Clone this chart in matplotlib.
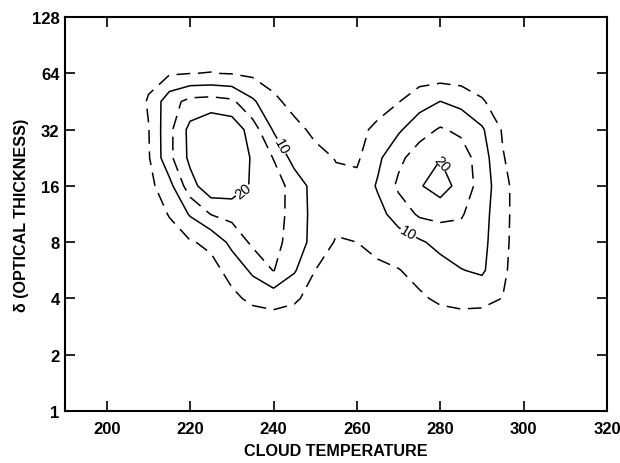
import numpy as np
import matplotlib
matplotlib.use("Agg")
from matplotlib import pyplot as plt

plt.rcParams['font.family'] = ['Liberation Sans', 'DejaVu Sans']

# grid of the frequency field: cloud temperature (K) x log2(optical thickness)
temps = [195, 200, 205, 210, 215, 220, 225, 230, 235, 240, 245, 250,
         255, 260, 265, 270, 275, 280, 285, 290, 295, 300, 305, 310]
log2_tau = [1.0, 1.5, 2.0, 2.5, 3.0, 3.5, 4.0, 4.5, 5.0, 5.5, 6.0, 6.5, 7.0]

row_10 = [0, 0, 0, 0.1, 0.2, 0.3, 0.4, 0.5, 0.6, 0.6, 0.5, 0.4, 0.3, 0.3, 0.4, 0.5, 0.6, 0.7, 0.7, 0.6, 0.5, 0.2, 0, 0]
row_15 = [0, 0, 0, 0.3, 0.5, 0.8, 1.2, 1.6, 2, 2, 1.8, 1.2, 1, 1, 1.2, 1.5, 2, 2.4, 2.5, 2.4, 1.8, 0.5, 0, 0]
row_20 = [0, 0, 0.3, 0.5, 1, 1.5, 2.5, 4, 6, 7, 5.8, 3, 2, 2, 2.5, 3, 4.3, 5.8, 6.5, 6.3, 4.9, 1, 0.2, 0]
row_25 = [0, 0, 0.5, 1, 1.5, 2.5, 3.5, 6.5, 11, 15.2, 10.5, 5, 3.5, 3.5, 4, 4.8, 6.5, 8, 9.8, 10.8, 6, 1.5, 0.2, 0]
row_30 = [0, 0.1, 0.5, 1.5, 2.8, 4.6, 6, 11.5, 16, 16.5, 13, 8, 4.6, 5, 6.5, 7.8, 9.3, 11.5, 12.8, 11.5, 6.3, 2, 0.3, 0]
row_35 = [0, 0.1, 0.5, 2, 5.3, 10.5, 15.2, 16.5, 17, 16.8, 13.5, 8, 6.5, 6.5, 8.5, 12, 15.8, 16.5, 15.5, 12, 6.5, 2, 0.3, 0]
row_40 = [0, 0.2, 1, 3.5, 8.3, 18, 23.5, 23, 19.3, 17.5, 13, 8, 6, 6.5, 10.5, 16, 19.5, 22.5, 18, 13, 6.5, 2, 0.3, 0]
row_45 = [0, 0.2, 1, 4.5, 13.7, 21.2, 25.5, 24.5, 19.3, 14.8, 8, 6.3, 4.8, 4.2, 9, 13.8, 17.5, 19.8, 17.5, 12.5, 5.3, 2, 0.3, 0]
row_50 = [0, 0.2, 1, 4.8, 13.7, 21.5, 24.5, 23.5, 17.5, 9.5, 6.3, 4, 3.5, 4, 5.8, 9.3, 13, 15.5, 14, 10.7, 4.5, 1.5, 0.3, 0]
row_55 = [0, 0.2, 1, 5.5, 13, 16.5, 17, 16, 10.8, 6, 3.5, 2.5, 2.5, 3, 3.5, 4.8, 8, 10.05, 8.5, 5.5, 2.5, 1.5, 0.3, 0]
row_60 = [0, 0.3, 1.5, 3.5, 4.5, 4.95, 5.1, 4.8, 4, 3, 2.5, 2, 2, 1.8, 1.5, 2, 2.3, 2.3, 2.2, 2, 1.5, 1, 0.3, 0]
row_65 = [0, 0, 0.5, 1.5, 2.5, 3, 3, 2.5, 2, 1.5, 1, 1, 1, 1, 1, 1.2, 1.4, 1.4, 1.3, 1.2, 1, 0.5, 0, 0]
row_70 = [0, 0, 0.2, 0.5, 0.8, 1, 1, 1, 0.8, 0.6, 0.5, 0.4, 0.4, 0.4, 0.5, 0.6, 0.8, 0.8, 0.8, 0.6, 0.4, 0.2, 0, 0]

dashed_levels = [5, 15]
solid_levels = [10, 20]
x_ticks = [200, 220, 240, 260, 280, 300, 320]
y_tick_labels = ['1', '2', '4', '8', '16', '32', '64', '128']

field = np.array([row_10, row_15, row_20, row_25, row_30, row_35, row_40,
                  row_45, row_50, row_55, row_60, row_65, row_70])

fig = plt.figure(figsize=(6.2, 4.64), dpi=100)
ax = fig.add_axes([0.105, 0.112, 0.874, 0.849])

ax.contour(temps, log2_tau, field, levels=dashed_levels, colors='black',
           linewidths=1.1, linestyles=[(0, (9, 5))])
cs = ax.contour(temps, log2_tau, field, levels=solid_levels, colors='black',
                linewidths=1.1, linestyles='solid')
ax.clabel(cs, fmt='%d', fontsize=10.5, inline=True, inline_spacing=2,
          manual=[(240.8, 4.66), (234.2, 3.78), (280.2, 4.40), (272.1, 3.13)])

ax.set_xlim(190, 320)
ax.set_ylim(0, 7)
ax.set_xticks(x_ticks)
ax.set_yticks(range(len(y_tick_labels)))
ax.set_yticklabels(y_tick_labels)
ax.tick_params(direction='in', length=7, width=1.2, top=True, right=True,
               labelsize=12)
ax.tick_params(axis='x', pad=7)
ax.tick_params(axis='y', pad=4)
for lab in ax.get_xticklabels() + ax.get_yticklabels():
    lab.set_fontweight('bold')
for sp in ax.spines.values():
    sp.set_linewidth(1.5)

ax.set_xlabel('CLOUD TEMPERATURE', fontsize=11.6, fontweight='bold', labelpad=5)
ax.set_ylabel('δ (OPTICAL THICKNESS)', fontsize=11.6, fontweight='bold', labelpad=2)

fig.savefig('out.png', dpi=100)
